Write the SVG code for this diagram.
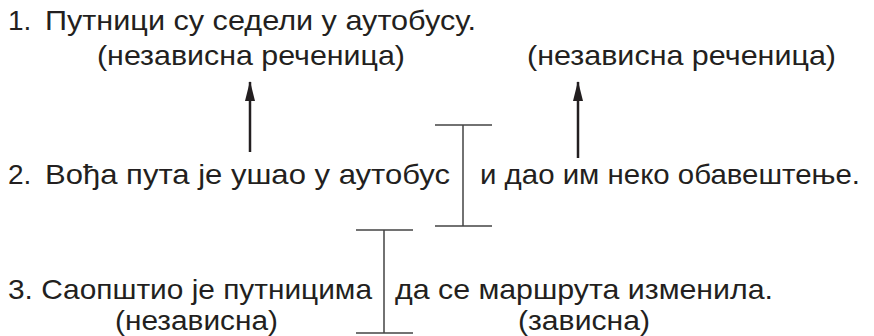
<svg xmlns="http://www.w3.org/2000/svg" width="874" height="336" viewBox="0 0 874 336">
<style>
text{font-family:"Liberation Sans",Arial,sans-serif;font-size:28px;fill:#231f20}
.sm{font-size:27px}
.br{stroke:#444;stroke-width:1.5;fill:none}
.ar{stroke:#231f20;stroke-width:2.5;fill:none}
</style>
<defs>
<marker id="ah" markerWidth="20" markerHeight="10" refX="19" refY="5" orient="auto" markerUnits="userSpaceOnUse" viewBox="0 0 20 10">
<path d="M0 0 L20 5 L0 10 Z" fill="#231f20"/>
</marker>
</defs>
<rect width="874" height="336" fill="#fff"/>
<g id="s1">
<text x="8" y="30"><tspan>1.</tspan><tspan x="45" textLength="431" lengthAdjust="spacingAndGlyphs">Путници су седели у аутобусу.</tspan></text>
</g>
<g id="l1a"><text x="97" y="65" textLength="308" lengthAdjust="spacingAndGlyphs">(независна реченица)</text></g>
<g id="l1b"><text x="527" y="65" textLength="309" lengthAdjust="spacingAndGlyphs">(независна реченица)</text></g>
<g id="s2a">
<text x="8" y="184"><tspan>2.</tspan><tspan x="45" textLength="405" lengthAdjust="spacingAndGlyphs">Вођа пута је ушао у аутобус</tspan></text>
</g>
<g id="s2b"><text x="480" y="184" textLength="380" lengthAdjust="spacingAndGlyphs">и дао им неко обавештење.</text></g>
<g id="s3a"><text x="8" y="299" textLength="364" lengthAdjust="spacingAndGlyphs">3. Саопштио је путницима</text></g>
<g id="s3b"><text x="395" y="299" textLength="378" lengthAdjust="spacingAndGlyphs">да се маршрута изменила.</text></g>
<g id="l3a"><text class="sm" x="115" y="330" textLength="163" lengthAdjust="spacingAndGlyphs">(независна)</text></g>
<g id="l3b"><text class="sm" x="518" y="330" textLength="132" lengthAdjust="spacingAndGlyphs">(зависна)</text></g>
<g id="connectors">
<line class="ar" x1="250" y1="152" x2="250" y2="82" marker-end="url(#ah)"/>
<line class="ar" x1="578" y1="158" x2="578" y2="82" marker-end="url(#ah)"/>
<path class="br" d="M435 125H492M463 125V226M435 226H492"/>
<path class="br" d="M356 230H413M384 230V333M356 333H413"/>
</g>
</svg>
